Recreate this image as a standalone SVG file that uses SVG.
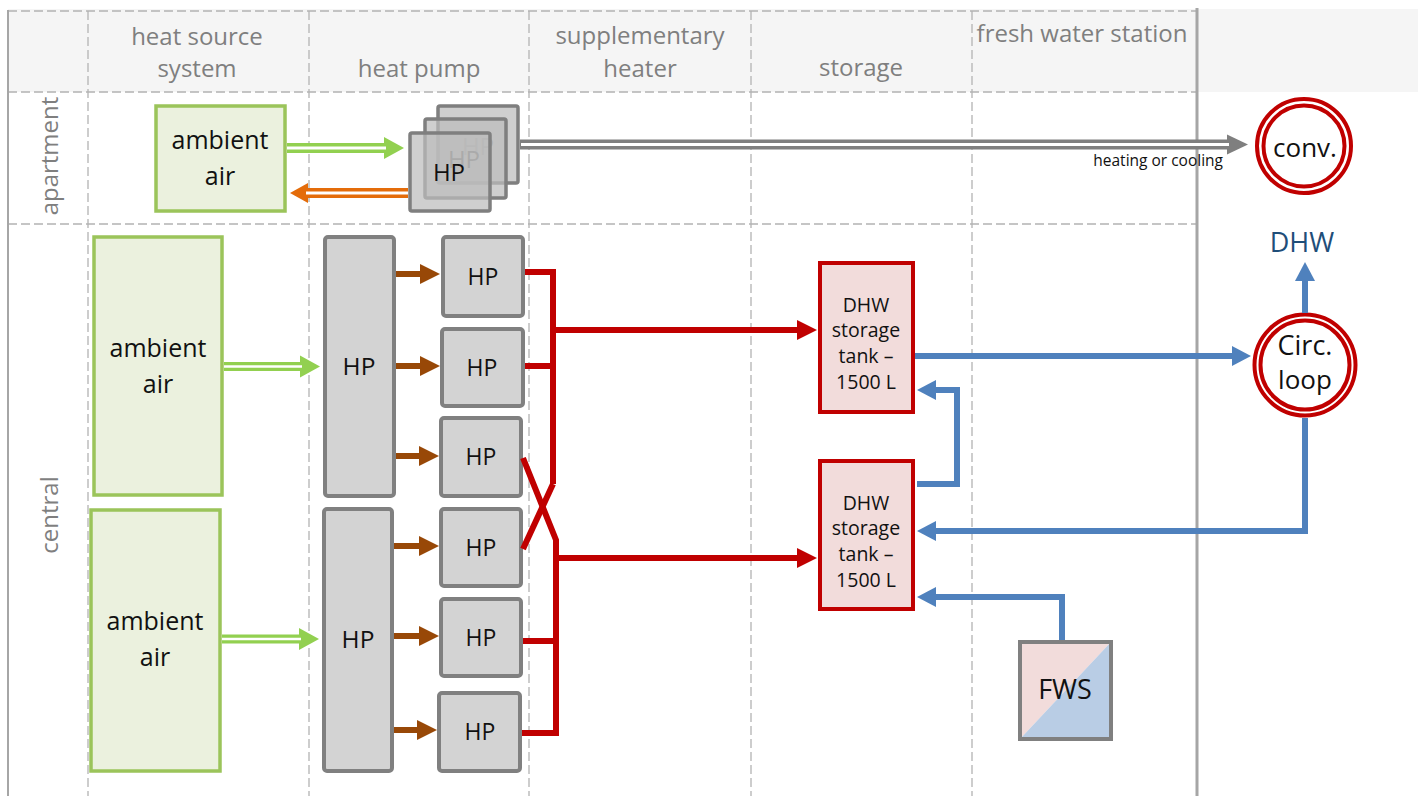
<svg xmlns="http://www.w3.org/2000/svg" width="1418" height="796" viewBox="0 0 1418 796">
<style>
.hdr{font-family:"Open Sans","Liberation Sans",sans-serif;font-size:24px;fill:#7f7f7f;text-anchor:middle}
.t{font-family:"Open Sans","Liberation Sans",sans-serif;fill:#111;text-anchor:middle}
.grid{stroke:#b3b3b3;stroke-width:1.3;stroke-dasharray:9 4;fill:none}
.solid{stroke:#a6a6a6;fill:none}
.air{fill:#ebf1de;stroke:#9bc45a;stroke-width:3.5}
.hp{fill:#d3d3d3;stroke:#808080;stroke-width:4}
.hpa{fill:#bcbcbc;fill-opacity:0.72;stroke:#7f7f7f;stroke-width:3.5}
.tank{fill:#f2dcdb;stroke:#c00000;stroke-width:4}
.ring{fill:none;stroke:#c00000;stroke-width:4}
.red{stroke:#c00000;stroke-width:6;fill:none;stroke-linejoin:miter}
.blue{stroke:#4f81bd;stroke-width:6;fill:none;stroke-linejoin:miter}
.brown{stroke:#984807;stroke-width:6;fill:none}
.gap{stroke:#fff;fill:none}
</style>
<defs>
<marker id="ar-red" markerUnits="userSpaceOnUse" markerWidth="22" markerHeight="22" refX="1" refY="10" orient="auto" overflow="visible"><path d="M0,0 L20,10 L0,20 z" fill="#c00000"/></marker>
<marker id="ar-blue" markerUnits="userSpaceOnUse" markerWidth="22" markerHeight="22" refX="1" refY="10" orient="auto" overflow="visible"><path d="M0,0 L19,10 L0,20 z" fill="#4f81bd"/></marker>
<marker id="ar-brown" markerUnits="userSpaceOnUse" markerWidth="22" markerHeight="22" refX="1" refY="10" orient="auto" overflow="visible"><path d="M0,0 L20,10 L0,20 z" fill="#984807"/></marker>
<marker id="ar-green" markerUnits="userSpaceOnUse" markerWidth="24" markerHeight="24" refX="1" refY="11" orient="auto" overflow="visible"><path d="M0,0 L20,11 L0,22 z" fill="#92d050"/></marker>
<marker id="ar-orange" markerUnits="userSpaceOnUse" markerWidth="24" markerHeight="24" refX="1" refY="10" orient="auto" overflow="visible"><path d="M0,0 L18,10 L0,20 z" fill="#e46c0a"/></marker>
<marker id="ar-gray" markerUnits="userSpaceOnUse" markerWidth="24" markerHeight="24" refX="1" refY="10" orient="auto" overflow="visible"><path d="M0,0 L21,10 L0,20 z" fill="#7f7f7f"/></marker>
</defs>

<g id="grid">
<rect x="8" y="9" width="1410" height="83" fill="#f5f5f5"/>
<path class="grid" d="M8,11 H1197 M8,92 H1197 M8,224 H1197"/>
<path class="grid" d="M88,11 V796 M309,11 V796 M529,11 V796 M751,11 V796 M972,11 V796"/>
<path class="solid" stroke-width="2" d="M8,10 V796"/>
<path class="solid" stroke-width="3" d="M1197,8 V796"/>
<text class="hdr" x="197" y="45">heat source</text>
<text class="hdr" x="197" y="77">system</text>
<text class="hdr" x="419" y="77">heat pump</text>
<text class="hdr" x="640" y="44">supplementary</text>
<text class="hdr" x="640" y="77">heater</text>
<text class="hdr" x="861" y="76">storage</text>
<text class="hdr" x="1082" y="42">fresh water station</text>
<text class="hdr" font-size="23" transform="translate(58,156) rotate(-90)">apartment</text>
<text class="hdr" font-size="23" transform="translate(58,515) rotate(-90)">central</text>
</g>

<g id="apt-air">
<rect class="air" x="156" y="106" width="129" height="105"/>
<text class="t" font-size="25" x="220" y="149">ambient</text>
<text class="t" font-size="25" x="220" y="185">air</text>
</g>
<g id="apt-hp">
<rect class="hpa" x="438" y="106" width="80" height="77" rx="2"/>
<text class="t" font-size="24" x="478" y="155" style="fill:#8c8c8c">HP</text>
<rect class="hpa" x="425" y="119" width="81" height="79" rx="2"/>
<text class="t" font-size="24" x="464" y="168" style="fill:#7a7a7a">HP</text>
<rect class="hpa" x="410" y="133" width="80" height="78" rx="2"/>
<text class="t" font-size="24" x="449" y="181">HP</text>
</g>
<g id="conv">
<circle cx="1304" cy="146" r="47" fill="#fff"/>
<circle class="ring" cx="1304" cy="146" r="47"/>
<circle class="ring" cx="1304" cy="146" r="40.5"/>
<text class="t" font-size="26" x="1305" y="157">conv.</text>
</g>

<g id="air1">
<rect class="air" x="94" y="237" width="128" height="258"/>
<text class="t" font-size="25" x="158" y="357">ambient</text>
<text class="t" font-size="25" x="158" y="393">air</text>
</g>
<g id="air2">
<rect class="air" x="91" y="510" width="129" height="261"/>
<text class="t" font-size="25" x="155" y="630">ambient</text>
<text class="t" font-size="25" x="155" y="666">air</text>
</g>
<g id="hpbar1">
<rect class="hp" x="325" y="237" width="69" height="259" rx="3"/>
<text class="t" font-size="24.5" x="359" y="375">HP</text>
</g>
<g id="hpbar2">
<rect class="hp" x="324" y="509" width="68" height="262" rx="3"/>
<text class="t" font-size="24.5" x="358" y="648">HP</text>
</g>
<g id="hp1"><rect class="hp" x="443" y="237" width="80" height="79" rx="3"/><text class="t" font-size="23" x="483" y="285">HP</text></g>
<g id="hp2"><rect class="hp" x="442" y="329" width="81" height="77" rx="3"/><text class="t" font-size="23" x="482" y="376">HP</text></g>
<g id="hp3"><rect class="hp" x="441" y="418" width="80" height="78" rx="3"/><text class="t" font-size="23" x="481" y="465">HP</text></g>
<g id="hp4"><rect class="hp" x="441" y="509" width="80" height="77" rx="3"/><text class="t" font-size="23" x="481" y="556">HP</text></g>
<g id="hp5"><rect class="hp" x="441" y="599" width="80" height="77" rx="3"/><text class="t" font-size="23" x="481" y="646">HP</text></g>
<g id="hp6"><rect class="hp" x="439" y="693" width="81" height="78" rx="3"/><text class="t" font-size="23" x="480" y="740">HP</text></g>

<g id="tank1">
<rect class="tank" x="820" y="263" width="93" height="149"/>
<text class="t" font-size="19.5" x="866" y="312">DHW</text>
<text class="t" font-size="19.5" x="866" y="337">storage</text>
<text class="t" font-size="19.5" x="866" y="363">tank –</text>
<text class="t" font-size="19.5" x="866" y="389">1500 L</text>
</g>
<g id="tank2">
<rect class="tank" x="820" y="461" width="93" height="148"/>
<text class="t" font-size="19.5" x="866" y="510">DHW</text>
<text class="t" font-size="19.5" x="866" y="535">storage</text>
<text class="t" font-size="19.5" x="866" y="561">tank –</text>
<text class="t" font-size="19.5" x="866" y="587">1500 L</text>
</g>
<g id="circ">
<circle cx="1305" cy="365" r="50.5" fill="#fff"/>
<circle class="ring" cx="1305" cy="365" r="50.5"/>
<circle class="ring" cx="1305" cy="365" r="44.5"/>
<text class="t" font-size="27" x="1305" y="355">Circ.</text>
<text class="t" font-size="26" x="1305" y="389">loop</text>
</g>
<g id="dhw">
<text class="t" font-size="27" x="1302" y="252" style="fill:#1f4e79">DHW</text>
</g>
<g id="fws">
<polygon points="1020,642 1111,642 1020,739" fill="#f2dcdb"/>
<polygon points="1111,642 1111,739 1020,739" fill="#b9cde5"/>
<rect x="1020" y="642" width="91" height="97" fill="none" stroke="#808080" stroke-width="4"/>
<text class="t" font-size="27" x="1065" y="699">FWS</text>
</g>

<g id="connectors">
<path stroke="#92d050" stroke-width="10" fill="none" d="M287,148 H385" marker-end="url(#ar-green)"/>
<path class="gap" stroke-width="3" d="M287,148 H386"/>
<path stroke="#e46c0a" stroke-width="10" fill="none" d="M408,193 H307" marker-end="url(#ar-orange)"/>
<path class="gap" stroke-width="3" d="M408,193 H306"/>
<path stroke="#7f7f7f" stroke-width="10" fill="none" d="M520,144.5 H1228" marker-end="url(#ar-gray)"/>
<path class="gap" stroke-width="3" d="M521,144.5 H1229"/>
<text font-family="'Open Sans','Liberation Sans',sans-serif" font-size="15.5" fill="#111" text-anchor="end" x="1223" y="166">heating or cooling</text>

<path stroke="#92d050" stroke-width="9" fill="none" d="M224,366.5 H301" marker-end="url(#ar-green)"/>
<path class="gap" stroke-width="2.5" d="M224,366.5 H302"/>
<path stroke="#92d050" stroke-width="9" fill="none" d="M222,639 H300" marker-end="url(#ar-green)"/>
<path class="gap" stroke-width="2.5" d="M222,639 H301"/>

<path class="brown" d="M396,274 H421" marker-end="url(#ar-brown)"/>
<path class="brown" d="M396,366 H421" marker-end="url(#ar-brown)"/>
<path class="brown" d="M396,456 H420" marker-end="url(#ar-brown)"/>
<path class="brown" d="M394,546 H420" marker-end="url(#ar-brown)"/>
<path class="brown" d="M394,636 H420" marker-end="url(#ar-brown)"/>
<path class="brown" d="M394,730 H418" marker-end="url(#ar-brown)"/>

<path class="red" d="M525,272 H553 V484"/>
<path class="red" d="M525,366 H553"/>
<path class="red" d="M553,330 H798" marker-end="url(#ar-red)"/>
<path class="red" d="M553,484 L523,549"/>
<path class="red" d="M523,458 L556,540 V733 H522"/>
<path class="red" d="M523,641 H556"/>
<path class="red" d="M556,558 H798" marker-end="url(#ar-red)"/>

<path class="blue" d="M915,356 H1233" marker-end="url(#ar-blue)"/>
<path class="blue" d="M917,484 H957 V390 H935" marker-end="url(#ar-blue)"/>
<path class="blue" d="M1305,418 V531 H935" marker-end="url(#ar-blue)"/>
<path class="blue" d="M1062,640 V597 H935" marker-end="url(#ar-blue)"/>
<path class="blue" d="M1305,313 V280" marker-end="url(#ar-blue)"/>
</g>
</svg>
